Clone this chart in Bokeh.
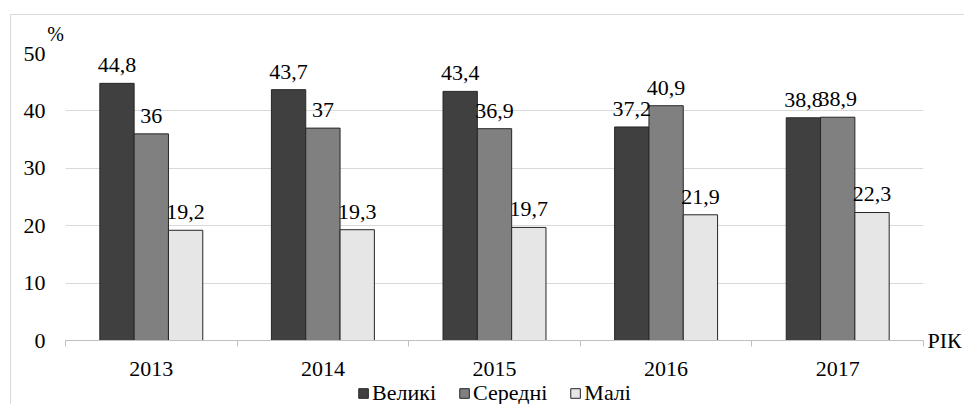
from bokeh.plotting import figure
from bokeh.models import (ColumnDataSource, FixedTicker, LabelSet, Legend, LegendItem,
                          Range1d, LinearAxis)
from bokeh.layouts import column
from bokeh.embed import file_html
from bokeh.resources import INLINE

years = ["2013", "2014", "2015", "2016", "2017"]
series_names = ["Великі", "Середні", "Малі"]
velyki = [44.8, 43.7, 43.4, 37.2, 38.8]
seredni = [36, 37, 36.9, 40.9, 38.9]
mali = [19.2, 19.3, 19.7, 21.9, 22.3]
y_ticks = [0, 10, 20, 30, 40, 50]
y_unit = "%"
x_unit = "РІК"

colors = ["#404040", "#808080", "#e6e6e6"]
FONT = "Times"
FS = "22px"

W = 953
p = figure(width=W, height=366, output_backend="svg", toolbar_location=None,
           x_range=Range1d(0, 5), y_range=Range1d(0, 50),
           min_border_left=54, min_border_right=0, min_border_top=38, min_border_bottom=41)
p.outline_line_color = None

centers = [i + 0.5 for i in range(len(years))]
offsets = [-0.2, 0.0, 0.2]
for vals, off, col in zip([velyki, seredni, mali], offsets, colors):
    src = ColumnDataSource(dict(x=[c + off for c in centers], top=vals,
                                lab=[("%g" % v).replace(".", ",") for v in vals]))
    p.vbar(x="x", top="top", width=0.2, source=src, fill_color=col,
           line_color="#262626", line_width=1)
    p.add_layout(LabelSet(x="x", y="top", text="lab", source=src, text_align="center",
                          text_baseline="alphabetic", y_offset=11,
                          text_font=FONT, text_font_size=FS, text_color="black"))


def bare(ax, standoff, size=FS):
    ax.axis_line_color = None
    ax.major_tick_line_color = None
    ax.minor_tick_line_color = None
    ax.major_tick_out = 0
    ax.major_tick_in = 0
    ax.major_label_standoff = standoff
    ax.major_label_text_font = FONT
    ax.major_label_text_font_size = size
    ax.major_label_text_color = "black"


# bottom axis: year labels at group centres, tick marks at group boundaries
xa = p.xaxis[0]
xa.ticker = FixedTicker(ticks=centers, minor_ticks=[0, 1, 2, 3, 4, 5])
xa.major_label_overrides = {c: y for c, y in zip(centers, years)}
bare(xa, 15)
xa.axis_line_color = "#bfbfbf"
xa.minor_tick_line_color = "#bfbfbf"
xa.minor_tick_out = 6
xa.minor_tick_in = 0

ya = p.yaxis[0]
ya.ticker = FixedTicker(ticks=y_ticks)
bare(ya, 20)

# right axis carrying the x-unit label at the baseline
ra = LinearAxis(ticker=FixedTicker(ticks=[0]), major_label_overrides={0: x_unit})
bare(ra, 4)
p.add_layout(ra, "right")

# top axis carrying the y-unit label at the top-left corner
ta = LinearAxis(ticker=FixedTicker(ticks=[0]), major_label_overrides={0: y_unit + "\u2003"})
bare(ta, 9, "20px")
p.add_layout(ta, "above")

p.xgrid.grid_line_color = None
p.ygrid.grid_line_color = "#d9d9d9"
p.ygrid.ticker = FixedTicker(ticks=y_ticks)

# legend strip
lg = figure(width=W, height=23, output_backend="svg", toolbar_location=None,
            x_range=Range1d(0, 1), y_range=Range1d(0, 1),
            min_border_left=0, min_border_right=18, min_border_top=0, min_border_bottom=0)
lg.axis.visible = False
lg.grid.visible = False
lg.outline_line_color = None
items = []
for name, col in zip(series_names, colors):
    r = lg.vbar(x=[5], top=[0], width=0.1, fill_color=col, line_color="#262626", line_width=1)
    items.append(LegendItem(label=name, renderers=[r]))
legend = Legend(items=items, orientation="horizontal", location="center",
                label_text_font=FONT, label_text_font_size=FS, label_text_color="black",
                glyph_width=12, glyph_height=12, label_standoff=3, spacing=22,
                background_fill_alpha=0, border_line_color=None, padding=0, margin=0,
                label_height=12)
lg.add_layout(legend, "center")

layout = column(p, lg, spacing=0)
layout.styles = {"margin-left": "10px", "margin-top": "14px",
                 "border-left": "1px solid #d9d9d9", "border-top": "1px solid #d9d9d9"}

open("out.html", "w").write(file_html(layout, INLINE))
